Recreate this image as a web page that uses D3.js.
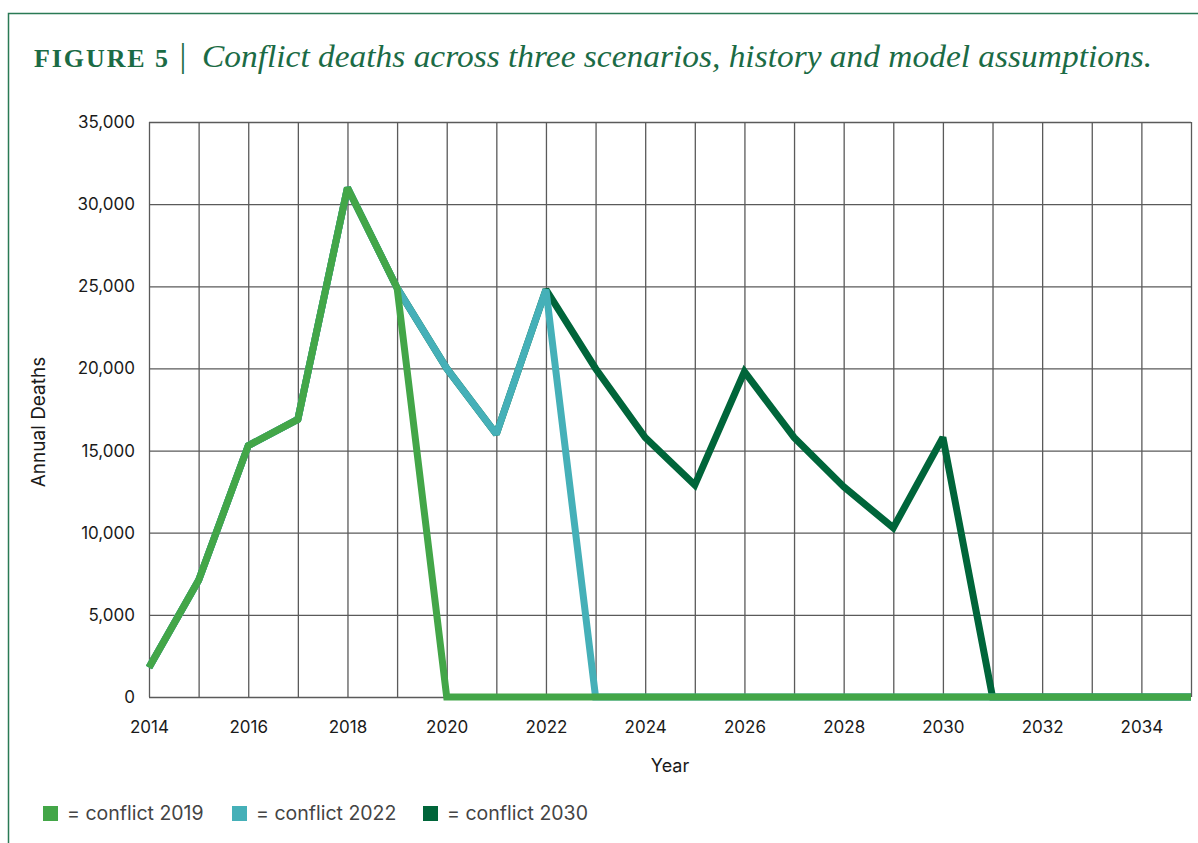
<!DOCTYPE html>
<html>
<head>
<meta charset="utf-8">
<script src="https://cdn.jsdelivr.net/npm/d3@7"></script>
<style>
  body { margin: 0; background: #fff; }
  svg { display: block; }
  .tick text { font-family: Inter, 'Noto Sans', sans-serif; }
</style>
</head>
<body>
<div id="chart"></div>
<script>
// data
const years = [2014, 2015, 2016, 2017, 2018, 2019, 2020, 2021, 2022, 2023, 2024,
  2025, 2026, 2027, 2028, 2029, 2030, 2031, 2032, 2033, 2034, 2035]
const conflict2019 = [1800, 7100, 15300, 16900, 31000, 24900, 0, 0, 0, 0, 0,
  0, 0, 0, 0, 0, 0, 0, 0, 0, 0, 0]
const conflict2022 = [1800, 7100, 15300, 16900, 31000, 24900, 20000, 16000, 24800, 0, 0,
  0, 0, 0, 0, 0, 0, 0, 0, 0, 0, 0]
const conflict2030 = [1800, 7100, 15300, 16900, 31000, 24900, 20000, 16000, 24800, 20000, 15800,
  12900, 19800, 15800, 12800, 10300, 15800, 0, 0, 0, 0, 0]
const yearLabels = [2014, 2016, 2018, 2020, 2022, 2024, 2026, 2028, 2030, 2032, 2034]
const deathTicks = [0, 5000, 10000, 15000, 20000, 25000, 30000, 35000]

const seriesNames = ['conflict 2019', 'conflict 2022', 'conflict 2030']
const seriesValues = [conflict2019, conflict2022, conflict2030]
const colors = ['#43a648', '#45b0b8', '#00653a']

const width = 1198
const height = 843
const margin = { top: 122, right: 7, bottom: 146, left: 149 }
const green = '#1b6b45'
const sans = "Inter, 'Noto Sans', sans-serif"

const svg = d3.select('#chart')
  .append('svg')
  .attr('width', width)
  .attr('height', height)

// frame
svg.append('path')
  .attr('d', `M8.5,${height} V13.5 H${width}`)
  .attr('fill', 'none')
  .attr('stroke', '#2a7a55')
  .attr('stroke-width', 1.5)

// title, in three pieces
svg.append('text')
  .attr('x', 34)
  .attr('y', 67)
  .attr('fill', green)
  .attr('font-family', "'Liberation Serif', serif")
  .attr('font-weight', 'bold')
  .attr('font-size', 26)
  .attr('textLength', 134)
  .attr('lengthAdjust', 'spacing')
  .text('FIGURE 5')

svg.append('text')
  .attr('x', 183)
  .attr('y', 67)
  .attr('text-anchor', 'middle')
  .attr('fill', green)
  .attr('font-family', "'Liberation Serif', serif")
  .attr('font-size', 34)
  .text('|')

svg.append('text')
  .attr('x', 202)
  .attr('y', 67)
  .attr('fill', green)
  .attr('font-family', "'Liberation Serif', serif")
  .attr('font-style', 'italic')
  .attr('font-size', 31)
  .attr('textLength', 950)
  .attr('lengthAdjust', 'spacingAndGlyphs')
  .text('Conflict deaths across three scenarios, history and model assumptions.')

const x = d3.scaleLinear()
  .domain([years[0], years[years.length - 1]])
  .range([margin.left, width - margin.right])

const y = d3.scaleLinear()
  .domain([0, 35000])
  .range([height - margin.bottom, margin.top])

// grid
svg.append('g')
  .attr('class', 'grid')
  .attr('transform', `translate(0,${y(0)})`)
  .call(d3.axisBottom(x).tickValues(years).tickSize(-(y(0) - y(35000))).tickFormat(''))
  .call(g => g.select('.domain').remove())
  .call(g => g.selectAll('line').attr('stroke', '#5a5a5a').attr('stroke-width', 1.3))

svg.append('g')
  .attr('class', 'grid')
  .attr('transform', `translate(${x(years[0])},0)`)
  .call(d3.axisLeft(y).tickValues(deathTicks).tickSize(-(x(2035) - x(2014))).tickFormat(''))
  .call(g => g.select('.domain').remove())
  .call(g => g.selectAll('line').attr('stroke', '#5a5a5a').attr('stroke-width', 1.3))

// axes labels
svg.append('g')
  .attr('transform', `translate(0,${y(0)})`)
  .call(d3.axisBottom(x).tickValues(yearLabels).tickSize(0).tickPadding(24).tickFormat(d3.format('d')))
  .call(g => g.select('.domain').remove())
  .call(g => g.selectAll('text').attr('font-size', 17).attr('fill', '#1a1a1a'))

svg.append('g')
  .attr('transform', `translate(${x(years[0])},0)`)
  .call(d3.axisLeft(y).tickValues(deathTicks).tickSize(0).tickPadding(14).tickFormat(d3.format(',')))
  .call(g => g.select('.domain').remove())
  .call(g => g.selectAll('text').attr('font-size', 17).attr('fill', '#1a1a1a'))

svg.append('text')
  .attr('transform', 'translate(45,422) rotate(-90)')
  .attr('text-anchor', 'middle')
  .attr('font-family', sans)
  .attr('font-size', 19)
  .attr('fill', '#1a1a1a')
  .text('Annual Deaths')

svg.append('text')
  .attr('x', (x(2014) + x(2035)) / 2)
  .attr('y', 772)
  .attr('text-anchor', 'middle')
  .attr('font-family', sans)
  .attr('font-size', 18)
  .attr('fill', '#1a1a1a')
  .text('Year')

// lines, last scenario at the bottom
const line = d3.line()
  .x((d, i) => x(years[i]))
  .y(d => y(d))

svg.selectAll('.series')
  .data(seriesValues.map((values, i) => ({ values, color: colors[i] })).reverse())
  .enter()
  .append('path')
  .attr('class', 'series')
  .attr('d', d => line(d.values))
  .attr('fill', 'none')
  .attr('stroke', d => d.color)
  .attr('stroke-width', 7)
  .attr('stroke-linejoin', 'miter')
  .attr('stroke-miterlimit', 2)

// legend
const legendX = [43, 232, 423]
const legend = svg.selectAll('.legend-item')
  .data(seriesNames)
  .enter()
  .append('g')
  .attr('class', 'legend-item')
  .attr('transform', (d, i) => `translate(${legendX[i]},806)`)

legend.append('rect')
  .attr('width', 15)
  .attr('height', 15)
  .attr('fill', (d, i) => colors[i])

legend.append('text')
  .attr('x', 24)
  .attr('y', 14)
  .attr('font-family', sans)
  .attr('font-size', 19.5)
  .attr('fill', '#444')
  .text(d => '= ' + d)
</script>
</body>
</html>
